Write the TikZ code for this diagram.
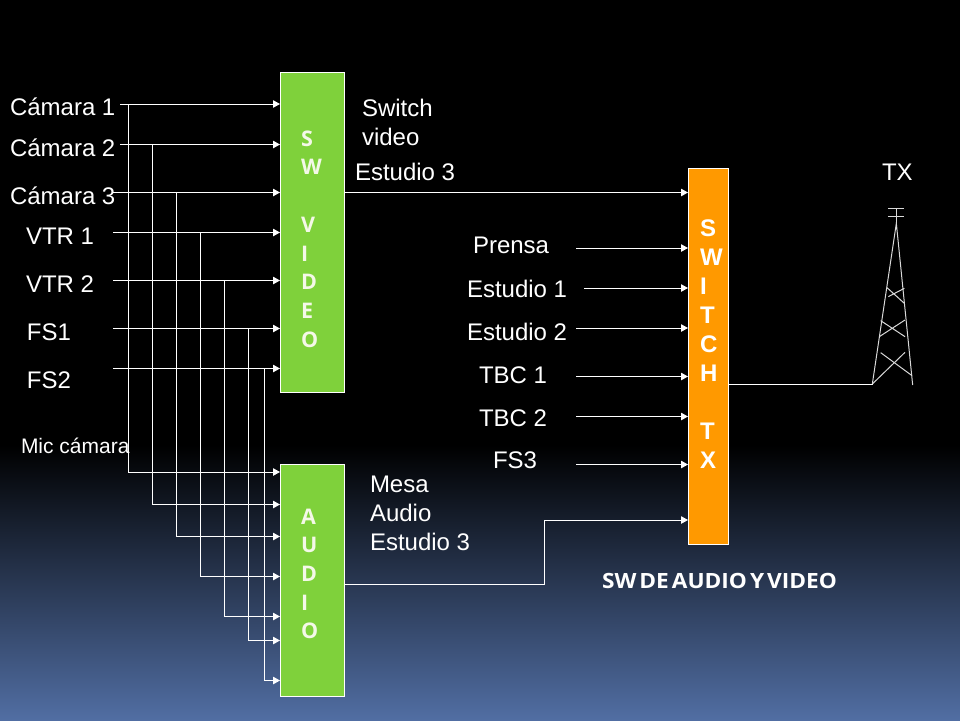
\documentclass[tikz,border=0pt]{standalone}
\usepackage{fontspec}
\setmainfont{Liberation Sans}
\newfontfamily\boxfont{Open Sans}
\newfontfamily\titlefont[FakeStretch=1.08]{Open Sans}
\usetikzlibrary{arrows.meta,calc}
\definecolor{boxgreen}{HTML}{7FD13B}
\definecolor{boxorange}{HTML}{FF9900}
\definecolor{bgblue}{HTML}{516EA3}
\definecolor{lettercream}{HTML}{F4F8E8}
\tikzset{
  wire/.style={draw=white,line width=1pt},
  feed/.style={wire,-{Triangle[length=7pt,width=7.5pt,fill=white]}},
  tline/.style={draw=white!85!black,line width=1pt},
  lab/.style={anchor=base west,inner sep=0pt,outer sep=0pt,text=white,font=\fontsize{24}{24}\selectfont},
  boxg/.style={draw=white,line width=1pt,fill=boxgreen,inner sep=0pt,anchor=north west,text width=64pt,align=center,text=lettercream},
  boxo/.style={draw=white,line width=1pt,fill=boxorange,inner sep=0pt,anchor=north west,text width=40pt,align=center,text=white}
}
\begin{document}
\begin{tikzpicture}[x=1pt,y=-1pt]
\useasboundingbox (0,0) rectangle (960,720);
\fill[black] (0,0) rectangle (960,446);
\shade[top color=black,bottom color=bgblue] (0,445) rectangle (960,720);
% boxes
\node[boxg,minimum height=320pt] (vid) at (280,72) {};
\node[boxg,minimum height=232pt] (aud) at (280,464) {};
\node[boxo,minimum height=376pt] (swt) at (688,168) {};
\node[anchor=north west,inner sep=0pt,align=left,text=lettercream,font=\boxfont\bfseries\fontsize{21.5}{28.7}\selectfont] (vidtxt) at (301,130.5) {S\\W\\[28.7pt]V\\I\\D\\E\\O};
\node[anchor=north west,inner sep=0pt,align=left,text=lettercream,font=\boxfont\bfseries\fontsize{21.5}{28.7}\selectfont] (audtxt) at (301,508.5) {A\\U\\D\\I\\O};
\node[anchor=north west,inner sep=0pt,align=left,text=white,font=\bfseries\fontsize{24}{29}\selectfont] (swttxt) at (700,220) {S\\W\\I\\T\\C\\H\\[29pt]T\\X};
% labels
\node[lab] (cam1) at (10,115) {Cámara 1};
\node[lab] (cam2) at (10,156) {Cámara 2};
\node[lab] (cam3) at (10,204) {Cámara 3};
\node[lab] (vtr1) at (26,244) {VTR 1};
\node[lab] (vtr2) at (26,292) {VTR 2};
\node[lab] (fs1) at (27,340) {FS1};
\node[lab] (fs2) at (27,388) {FS2};
\node[lab,font=\fontsize{21}{21}\selectfont] (mic) at (21,453) {Mic cámara};
\node[lab] (swa) at (362,116) {Switch};
\node[lab] (swb) at (362,145) {video};
\node[lab] (est3) at (355,180) {Estudio 3};
\node[lab] (tx) at (882,180) {TX};
\node[lab] (prensa) at (473,253) {Prensa};
\node[lab] (est1) at (467,297) {Estudio 1};
\node[lab] (est2) at (467,340) {Estudio 2};
\node[lab] (tbc1) at (479,383) {TBC 1};
\node[lab] (tbc2) at (479,426) {TBC 2};
\node[lab] (fs3) at (493,468) {FS3};
\node[lab] (mesa) at (370,492) {Mesa};
\node[lab] (audl) at (370,521) {Audio};
\node[lab] (est3b) at (370,550) {Estudio 3};
\node[lab,font=\titlefont\bfseries\fontsize{21}{22}\selectfont] (title) at (602,588.5) {\spaceskip=3pt SW DE AUDIO Y VIDEO};
% start points of the video feeds
\coordinate (s1) at (120,104);
\coordinate (s2) at (120,144.5);
\coordinate (s3) at (113,192.5);
\coordinate (s4) at (113,232.5);
\coordinate (s5) at (113,280.5);
\coordinate (s6) at (113,328.5);
\coordinate (s7) at (113,368.5);
\foreach \s in {s1,s2,s3,s4,s5,s6,s7} \draw[feed] (\s) -- (\s -| vid.west);
% branches to audio
\coordinate (b1) at (128.5,104);
\coordinate (b2) at (152.5,144.5);
\coordinate (b3) at (176.5,192.5);
\coordinate (b4) at (200.5,232.5);
\coordinate (b5) at (224.5,280.5);
\coordinate (b6) at (248.5,328.5);
\coordinate (b7) at (264.5,368.5);
\coordinate (a1) at (280,472);
\coordinate (a2) at (280,504.5);
\coordinate (a3) at (280,536.5);
\coordinate (a4) at (280,576.5);
\coordinate (a5) at (280,616.5);
\coordinate (a6) at (280,640.5);
\coordinate (a7) at (280,680.5);
\foreach \i in {1,...,7} \draw[feed] (b\i) |- (a\i);
% switch TX feeds
\draw[feed] (vid.east |- s3) -- (s3 -| swt.west);
\coordinate (t2) at (576,248);
\coordinate (t3) at (584,288);
\coordinate (t4) at (576,328);
\coordinate (t5) at (576,376.5);
\coordinate (t6) at (576,416.5);
\coordinate (t7) at (576,464.5);
\foreach \t in {t2,t3,t4,t5,t6,t7} \draw[feed] (\t) -- (\t -| swt.west);
\coordinate (aout) at (344.5,584);
\coordinate (aend) at (688,520);
\draw[feed] (aout) -- (544,584) -- (544,520) -- (aend);
% tower
\coordinate (tw) at (873,384);
\draw[wire] (swt.east |- tw) -- (tw);
\begin{scope}[shift={(840,190)},x=0.3333pt,y=-0.3333pt]
\draw[tline] (145,55) -- (193,55) (145,78) -- (193,78) (169,55) -- (169,100);
\draw[tline] (97,582) -- (169,100) -- (218,585);
\draw[tline] (141,293) -- (193,340) (145,320) -- (193,295);
\draw[tline] (122,392) -- (195,440) (118,440) -- (195,390);
\draw[tline] (122,488) -- (216,557) (97,582) -- (195,487);
\end{scope}
\end{tikzpicture}
\end{document}
